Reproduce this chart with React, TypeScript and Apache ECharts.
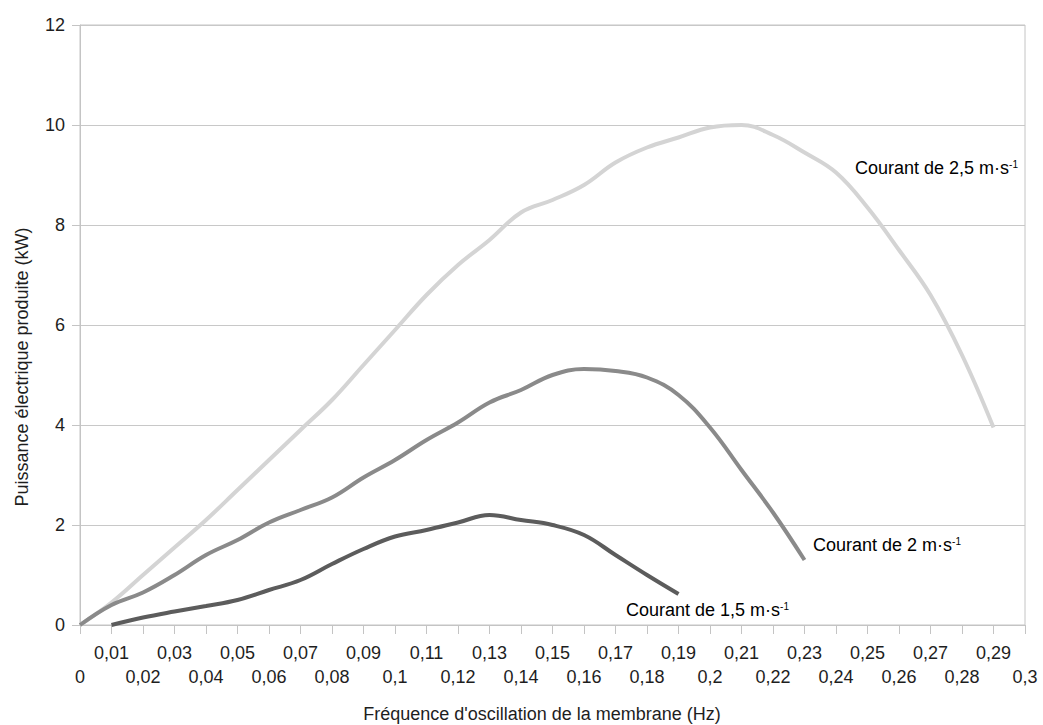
import React, { useEffect, useRef } from "react";
import * as echarts from "echarts";

// ---- data ----
const freq25 = [0, 0.01, 0.02, 0.03, 0.04, 0.05, 0.06, 0.07, 0.08, 0.09, 0.1, 0.11, 0.12, 0.13, 0.14, 0.15, 0.16, 0.17, 0.18, 0.19, 0.2, 0.21, 0.22, 0.23, 0.24, 0.25, 0.26, 0.27, 0.28, 0.29];
const power25 = [0, 0.45, 1.0, 1.55, 2.1, 2.7, 3.3, 3.9, 4.5, 5.2, 5.9, 6.6, 7.2, 7.7, 8.25, 8.5, 8.8, 9.25, 9.55, 9.75, 9.95, 10.0, 9.8, 9.45, 9.05, 8.35, 7.5, 6.6, 5.4, 3.95];

const freq20 = [0, 0.01, 0.02, 0.03, 0.04, 0.05, 0.06, 0.07, 0.08, 0.09, 0.1, 0.11, 0.12, 0.13, 0.14, 0.15, 0.16, 0.17, 0.18, 0.19, 0.2, 0.21, 0.22, 0.23];
const power20 = [0, 0.4, 0.65, 1.0, 1.4, 1.7, 2.05, 2.3, 2.55, 2.95, 3.3, 3.7, 4.05, 4.45, 4.7, 5.0, 5.12, 5.08, 4.95, 4.6, 3.95, 3.1, 2.25, 1.3];

const freq15 = [0.01, 0.02, 0.03, 0.04, 0.05, 0.06, 0.07, 0.08, 0.09, 0.1, 0.11, 0.12, 0.13, 0.14, 0.15, 0.16, 0.17, 0.18, 0.19];
const power15 = [0, 0.15, 0.27, 0.38, 0.5, 0.7, 0.9, 1.22, 1.52, 1.77, 1.9, 2.05, 2.2, 2.1, 2.0, 1.8, 1.4, 1.0, 0.62];

const seriesNames = ["Courant de 2,5 m·s", "Courant de 2 m·s", "Courant de 1,5 m·s"];
const unitSup = "-1";
const xAxisTitle = "Fréquence d'oscillation de la membrane (Hz)";
const yAxisTitle = "Puissance électrique produite (kW)";
const xMin = 0, xMax = 0.3, xStep = 0.01;
const yMin = 0, yMax = 12, yStep = 2;

const FONT = "'Liberation Sans', Arial, sans-serif";
const TXT = "#1e1e1e";

const pairs = (xs: number[], ys: number[]) => xs.map((x, i) => [x, ys[i]]);
const fmtX = (v: number) => String(Math.round(v * 100) / 100).replace(".", ",");

export default function App() {
  const ref = useRef<HTMLDivElement>(null);
  useEffect(() => {
    if (!ref.current) return;
    const chart = echarts.init(ref.current, undefined, { renderer: "svg" });
    const rich = {
      a: { fontSize: 18, fontFamily: FONT, color: TXT },
      b: { fontSize: 10, fontFamily: FONT, color: TXT, verticalAlign: "top" as const },
    };
    const lbl = (name: string, x: number, y: number) => ({
      type: "text",
      x,
      y,
      style: {
        text: `{a|${name}}{b|${unitSup}}`,
        rich,
        align: "left",
        verticalAlign: "middle",
      },
    });
    chart.setOption({
      animation: false,
      backgroundColor: "#ffffff",
      grid: {
        left: 80,
        right: 18,
        top: 25,
        bottom: 100,
        show: true,
        borderColor: "#c4c4c4",
        borderWidth: 1,
      },
      xAxis: {
        type: "value",
        min: xMin,
        max: xMax,
        interval: xStep,
        axisLine: { show: true, lineStyle: { color: "#c4c4c4", width: 1 } },
        axisTick: { show: true, length: 9, lineStyle: { color: "#c4c4c4" } },
        splitLine: { show: false },
        axisLabel: {
          margin: 16,
          fontSize: 18,
          lineHeight: 24,
          fontFamily: FONT,
          color: TXT,
          hideOverlap: false,
          formatter: (v: number) => (Math.round(v * 100) % 2 === 1 ? fmtX(v) : "\n" + fmtX(v)),
        },
      },
      yAxis: {
        type: "value",
        min: yMin,
        max: yMax,
        interval: yStep,
        axisLine: { show: true, lineStyle: { color: "#c4c4c4", width: 1 } },
        axisTick: { show: true, length: 8, lineStyle: { color: "#c4c4c4" } },
        splitLine: { show: true, lineStyle: { color: "#c8c8c8", width: 1 } },
        axisLabel: { margin: 15, fontSize: 18, fontFamily: FONT, color: TXT },
      },
      series: [
        {
          name: seriesNames[0],
          type: "line",
          data: pairs(freq25, power25),
          smooth: 0.4,
          showSymbol: false,
          lineStyle: { color: "#d4d4d4", width: 4 },
          z: 3,
        },
        {
          name: seriesNames[1],
          type: "line",
          data: pairs(freq20, power20),
          smooth: 0.4,
          showSymbol: false,
          lineStyle: { color: "#8a8a8a", width: 4 },
          z: 4,
        },
        {
          name: seriesNames[2],
          type: "line",
          data: pairs(freq15, power15),
          smooth: 0.4,
          showSymbol: false,
          lineStyle: { color: "#5c5c5c", width: 4 },
          z: 5,
        },
      ],
      graphic: [
        lbl(seriesNames[0], 855, 168),
        lbl(seriesNames[1], 813, 545),
        lbl(seriesNames[2], 626, 610),
        {
          type: "text",
          x: 542,
          y: 714,
          style: {
            text: xAxisTitle,
            fontSize: 18,
            fontFamily: FONT,
            fill: TXT,
            align: "center",
            verticalAlign: "middle",
          },
        },
        {
          type: "text",
          x: 22,
          y: 367,
          rotation: Math.PI / 2,
          style: {
            text: yAxisTitle,
            fontSize: 18,
            fontFamily: FONT,
            fill: TXT,
            align: "center",
            verticalAlign: "middle",
          },
        },
      ],
    });
    return () => chart.dispose();
  }, []);
  return (
    <div
      ref={ref}
      style={{ position: "fixed", left: 0, top: 0, width: 1043, height: 725, background: "#fff" }}
    />
  );
}
